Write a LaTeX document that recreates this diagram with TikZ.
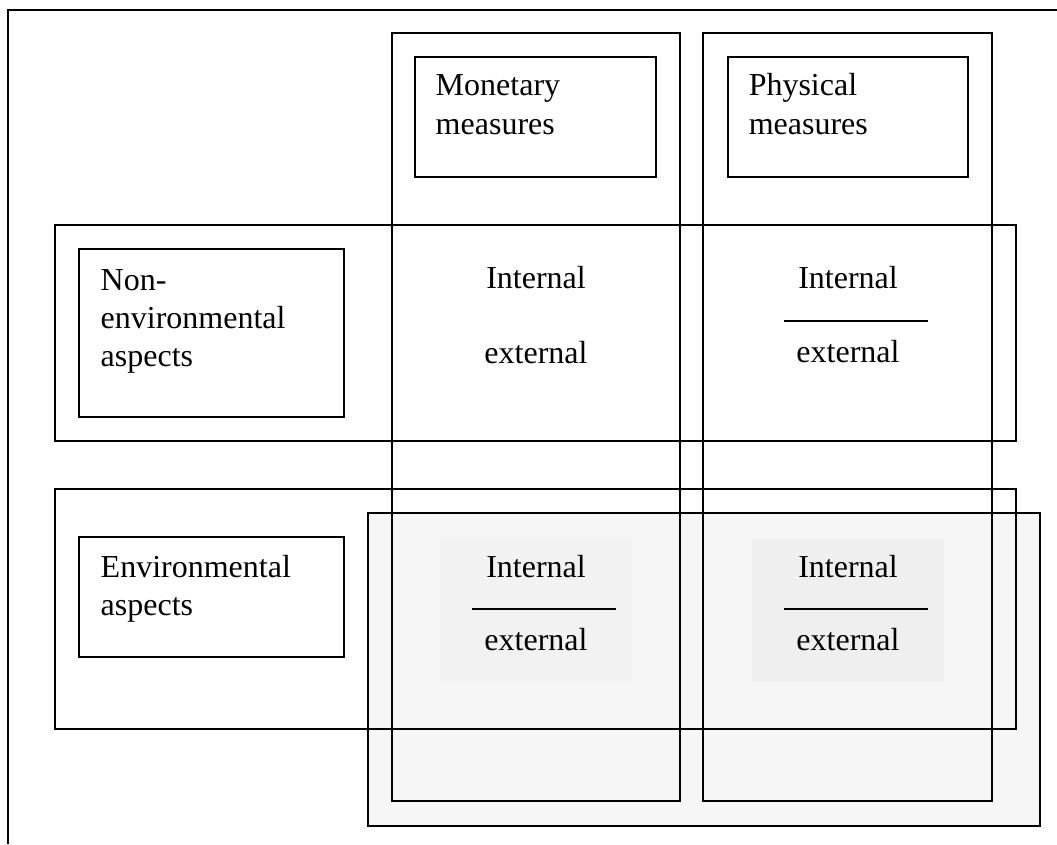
\documentclass[tikz,border=0pt]{standalone}
\usepackage{fontspec}
\setmainfont{Liberation Serif}
\definecolor{shadeA}{HTML}{F6F6F6}
\definecolor{shadeB}{HTML}{F2F2F2}
\definecolor{shadeC}{HTML}{EFEFEF}

\begin{document}
\begin{tikzpicture}[x=0.375pt,y=-0.375pt,line width=0.55pt,
  txt/.style={inner sep=0pt,font=\fontsize{12}{14}\selectfont},
  lft/.style={txt,anchor=base west},
  mid/.style={txt,anchor=base}]

 \useasboundingbox (0,0) rectangle (1057,844);

 % frame
 \draw (8,844) -- (8,10) -- (1057,10);

 % shaded block
 \filldraw[fill=shadeA, draw=black] (368,513) rectangle (1040,826);
 \fill[shadeB] (440,538) rectangle (632,682);
 \fill[shadeC] (752,538) rectangle (944,682);

 % columns
 \draw (392,33) rectangle (680,801);
 \draw (703,33) rectangle (992,801);
 \draw (415,57) rectangle (656,177);
 \draw (728,57) rectangle (968,177);
 \node[lft] (mon1) at (435,95) {Monetary};
 \node[lft] (mon2) at (435,134) {measures};
 \node[lft] (phy1) at (748,95) {Physical};
 \node[lft] (phy2) at (748,134) {measures};

 % rows
 \draw (55,225) rectangle (1016,441);
 \draw (79,249) rectangle (344,417);
 \node[lft] (non1) at (100,290) {Non-};
 \node[lft] (non2) at (100,328) {environmental};
 \node[lft] (non3) at (100,366) {aspects};

 \draw (55,489) rectangle (1016,729);
 \draw (79,537) rectangle (344,657);
 \node[lft] (env1) at (100,577) {Environmental};
 \node[lft] (env2) at (100,615) {aspects};

 % cells
 \node[mid] (monint) at (536,288) {Internal};
 \node[mid] (monext) at (536,363) {external};

 \node[mid] (phyint) at (848,288) {Internal};
 \draw (784,321) -- (928,321);
 \node[mid] (phyext) at (848,362) {external};

 \node[mid] (envmonint) at (536,577) {Internal};
 \draw (472,609) -- (616,609);
 \node[mid] (envmonext) at (536,650) {external};

 \node[mid] (envphyint) at (848,577) {Internal};
 \draw (784,609) -- (928,609);
 \node[mid] (envphyext) at (848,650) {external};

\end{tikzpicture}
\end{document}
